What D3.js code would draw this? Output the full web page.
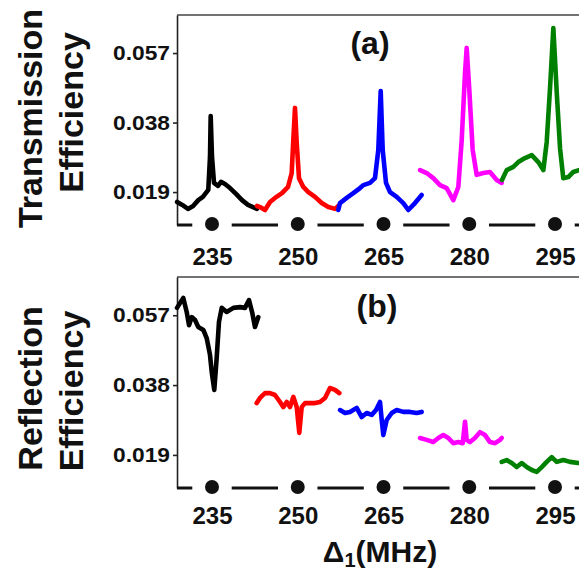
<!DOCTYPE html>
<html>
<head>
<meta charset="utf-8">
<script src="https://cdn.jsdelivr.net/npm/d3@7/dist/d3.min.js"></script>
<style>
  html, body { margin: 0; padding: 0; background: #fff; }
  svg { display: block; }
  text { font-family: "Liberation Sans", Arial, sans-serif; font-weight: bold; fill: #111; }
</style>
</head>
<body>
<svg id="chart" width="579" height="573"></svg>
<script>
// ---------- data (Δ1 in MHz, efficiency) ----------
const xTicks = [235, 250, 265, 280, 295];
const yTicks = [0.019, 0.038, 0.057];
const yTickLabels = ["0.019", "0.038", "0.057"];

const transBlack = [[228.9,0.0163],[229.8,0.0155],[230.8,0.0144],[231.7,0.0152],[232.6,0.0168],[233.4,0.0177],[234.35,0.0196],[234.65,0.0286],[234.77,0.0398],[235.0,0.0286],[235.35,0.0215],[236.05,0.0207],[236.57,0.0218],[237.27,0.0212],[238.15,0.0201],[239.2,0.0185],[240.25,0.0168],[241.3,0.0155],[242.17,0.0149],[242.87,0.0144]];
const transRed = [[242.87,0.0152],[243.4,0.0149],[244.27,0.0141],[245.15,0.0163],[246.02,0.0174],[247.25,0.0187],[248.3,0.0204],[248.94,0.0242],[249.22,0.0332],[249.52,0.0420],[249.82,0.0324],[250.22,0.0228],[250.97,0.0204],[251.85,0.0190],[253.02,0.0177],[254.19,0.0160],[255.35,0.0149],[256.52,0.0144],[257.09,0.0152]];
const transBlue = [[257.09,0.0141],[257.39,0.0160],[258.56,0.0174],[259.72,0.0187],[260.89,0.0201],[261.47,0.0209],[262.64,0.0215],[263.51,0.0228],[264.09,0.0305],[264.51,0.0466],[264.86,0.0305],[265.44,0.0215],[266.14,0.0190],[267.31,0.0177],[268.46,0.0160],[269.34,0.0141],[270.51,0.0160],[271.68,0.0182]];
const transMagenta = [[271.39,0.0250],[272.56,0.0242],[273.71,0.0228],[274.88,0.0209],[276.05,0.0201],[277.21,0.0168],[278.09,0.0204],[278.68,0.0332],[279.26,0.0515],[279.55,0.0584],[280.01,0.0469],[280.6,0.0305],[281.3,0.0237],[282.46,0.0242],[283.63,0.0245],[284.8,0.0223],[285.68,0.0215]];
const transGreen = [[285.73,0.0223],[286.55,0.0250],[287.71,0.0259],[288.58,0.0272],[289.75,0.0283],[290.93,0.0291],[292.08,0.0272],[292.96,0.0250],[293.55,0.0327],[294.13,0.0474],[294.71,0.0638],[295.3,0.0463],[295.88,0.0310],[296.45,0.0228],[297.33,0.0231],[298.2,0.0245],[299.2,0.0250],[300.4,0.0256]];

const reflBlack = [[228.88,0.0590],[229.4,0.0603],[229.98,0.0617],[230.57,0.0579],[230.98,0.0543],[231.45,0.0565],[232.03,0.0557],[232.6,0.0538],[233.48,0.0530],[234.07,0.0508],[234.65,0.0462],[234.95,0.0416],[235.4,0.0367],[235.82,0.0454],[236.22,0.0552],[236.7,0.0590],[237.57,0.0579],[238.73,0.0590],[239.9,0.0592],[240.77,0.0590],[241.47,0.0611],[242.05,0.0576],[242.52,0.0538],[243.1,0.0565]];
const reflRed = [[242.82,0.0331],[243.4,0.0345],[244.27,0.0358],[245.15,0.0358],[246.02,0.0353],[246.9,0.0334],[247.47,0.0320],[248.07,0.0334],[248.64,0.0320],[249.22,0.0348],[249.82,0.0320],[250.27,0.0250],[250.69,0.0320],[251.27,0.0331],[252.14,0.0331],[253.02,0.0331],[253.89,0.0334],[254.77,0.0345],[255.64,0.0372],[256.52,0.0367],[257.27,0.0358]];
const reflBlue = [[257.39,0.0312],[258.27,0.0304],[259.14,0.0307],[260.31,0.0318],[261.19,0.0293],[262.06,0.0304],[262.94,0.0299],[263.69,0.0312],[264.39,0.0334],[264.69,0.0285],[264.97,0.0244],[265.56,0.0285],[266.44,0.0304],[267.31,0.0312],[268.46,0.0307],[269.64,0.0307],[270.81,0.0304],[271.68,0.0307]];
const reflMagenta = [[271.39,0.0236],[272.56,0.0231],[273.71,0.0225],[274.59,0.0236],[275.46,0.0244],[276.34,0.0236],[277.21,0.0222],[278.09,0.0225],[278.86,0.0222],[279.26,0.0280],[279.55,0.0231],[280.13,0.0225],[281.0,0.0236],[281.88,0.0252],[282.76,0.0244],[283.63,0.0225],[284.51,0.0222],[285.38,0.0231],[285.68,0.0236]];
const reflGreen = [[285.68,0.0171],[286.55,0.0176],[287.43,0.0168],[288.3,0.0157],[289.18,0.0168],[290.05,0.0157],[290.93,0.0149],[291.8,0.0144],[292.68,0.0157],[293.55,0.0171],[294.43,0.0184],[295.3,0.0171],[296.45,0.0176],[297.63,0.0171],[299.08,0.0168],[300.4,0.0168]];

const seriesColors = ["#000000", "#ff0000", "#0000ff", "#ff00ff", "#008000"];

// ---------- layout ----------
const svg = d3.select("#chart");
const xLeft = 228.88;
const x = d3.scaleLinear().domain([235, 295]).range([212, 555]);
const yDomain = [0.010, 0.0674];

const panels = [
  { series: [transBlack, transRed, transBlue, transMagenta, transGreen],
    range: [225, 15], label: "(a)", labelPos: [370, 54],
    titles: [["Transmission", 42, 118.5], ["Efficiency", 83, 112.5]], xLabelY: 265 },
  { series: [reflBlack, reflRed, reflBlue, reflMagenta, reflGreen],
    range: [488, 277], label: "(b)", labelPos: [377, 317],
    titles: [["Reflection", 42, 388.5], ["Efficiency", 83, 391]], xLabelY: 524 }
];

panels.forEach(p => {
  const y = d3.scaleLinear().domain(yDomain).range(p.range);
  const g = svg.append("g");
  const x0 = x(xLeft), yBot = p.range[0], yTop = p.range[1];

  // top frame line
  g.append("line").attr("x1", x0).attr("x2", 620).attr("y1", yTop).attr("y2", yTop)
    .attr("stroke", "#444").attr("stroke-width", 1.6);

  // y axis
  const ya = d3.axisLeft(y).tickValues(yTicks).tickSize(4).tickSizeOuter(0).tickPadding(3)
    .tickFormat((d, i) => yTickLabels[i]);
  const yg = g.append("g").attr("transform", `translate(${x0},0)`).call(ya);
  yg.select(".domain").attr("stroke", "#222").attr("stroke-width", 1.6);
  yg.selectAll(".tick line").attr("stroke", "#222").attr("stroke-width", 1.6);
  yg.selectAll(".tick text").style("font-size", "21px").attr("fill", "#111")
    .attr("textLength", 57).attr("lengthAdjust", "spacingAndGlyphs")
    .attr("font-family", null);

  // x "axis": dash-dot baseline
  const step = xTicks[1] - xTicks[0];
  const dashStarts = [xTicks[0] - step].concat(xTicks);
  dashStarts.forEach(t => {
    const a = Math.max(t + step * 0.23, xLeft), b = t + step * 0.77;
    g.append("line").attr("x1", x(a)).attr("x2", x(b)).attr("y1", yBot).attr("y2", yBot)
      .attr("stroke", "#111").attr("stroke-width", 3);
  });
  g.selectAll("circle.dot").data(xTicks).join("circle").attr("class", "dot")
    .attr("cx", d => x(d)).attr("cy", yBot - 1).attr("r", 7).attr("fill", "#111");

  const xa = d3.axisBottom(x).tickValues(xTicks).tickSize(0).tickFormat(d3.format("d"));
  const xg = g.append("g").attr("transform", `translate(0,${yBot})`).call(xa);
  xg.select(".domain").remove();
  xg.selectAll(".tick text").attr("y", p.xLabelY - yBot).attr("dy", 0)
    .style("font-size", "24px").attr("fill", "#111").attr("font-family", null);

  // traces
  const line = d3.line().x(d => x(d[0])).y(d => y(d[1]));
  p.series.forEach((s, i) => {
    g.append("path").datum(s).attr("d", line).attr("fill", "none")
      .attr("stroke", seriesColors[i]).attr("stroke-width", 4.6)
      .attr("stroke-linejoin", "round").attr("stroke-linecap", "round");
  });

  // panel label
  g.append("text").attr("x", p.labelPos[0]).attr("y", p.labelPos[1])
    .attr("text-anchor", "middle").style("font-size", "32px").text(p.label);

  // y titles
  p.titles.forEach(([t, tx, ty]) => {
    g.append("text").attr("transform", `translate(${tx},${ty}) rotate(-90)`)
      .attr("text-anchor", "middle").style("font-size", "34px").text(t);
  });
});

// x title
const xt = svg.append("text").attr("x", 380).attr("y", 562).attr("text-anchor", "middle")
  .style("font-size", "30px");
xt.append("tspan").text("Δ");
xt.append("tspan").attr("dy", 5).style("font-size", "20px").text("1");
xt.append("tspan").attr("dy", -5).text("(MHz)");
</script>
</body>
</html>
